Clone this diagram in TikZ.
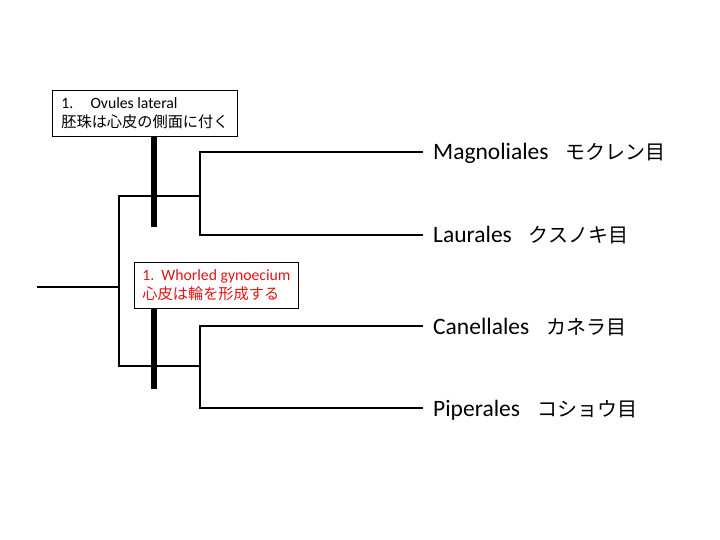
\documentclass[tikz,border=0pt]{standalone}
\usepackage{fontspec}
\setmainfont{Carlito}
\newfontfamily\jp{Noto Sans CJK JP}
\definecolor{lblred}{RGB}{225,20,20}
\newcommand{\tjp}[1]{\hspace{17pt}{\jp\fontsize{20}{22}\selectfont #1}}
\newcommand{\bjp}[1]{{\jp\fontsize{15.2}{19}\selectfont #1}}
\begin{document}
\begin{tikzpicture}[x=1pt,y=-1pt,
  br/.style={line width=1.3pt, line cap=rect},
  bar/.style={line width=6pt},
  taxon/.style={anchor=base west, inner sep=0pt, font=\fontsize{23.5}{26}\selectfont},
  charbox/.style={draw, line width=0.9pt, fill=white, anchor=north west, align=left, inner xsep=8pt, inner ysep=0pt, font=\fontsize{15.7}{19}\selectfont}]
\useasboundingbox (0,0) rectangle (720,540);
% coordinates
\coordinate (root) at (38,287);
\coordinate (r) at (119,287);
\coordinate (a) at (119,196);
\coordinate (b) at (119,366);
\coordinate (a1) at (200,196);
\coordinate (b1) at (200,366);
\coordinate (m0) at (200,152);
\coordinate (l0) at (200,235);
\coordinate (c0) at (200,326);
\coordinate (p0) at (200,408);
\node[taxon] (mag) at (433,160) {Magnoliales\tjp{モクレン目}};
\node[taxon] (lau) at (433,243) {Laurales\tjp{クスノキ目}};
\node[taxon] (can) at (433,334) {Canellales\tjp{カネラ目}};
\node[taxon] (pip) at (433,416) {Piperales\tjp{コショウ目}};
% tree
\draw[br] (root) -- (r);
\draw[br] (a) -- (b);
\draw[br] (a) -- (a1);
\draw[br] (b) -- (b1);
\draw[br] (m0) -- (l0);
\draw[br] (c0) -- (p0);
\draw[br] (m0) -- (422,152);
\draw[br] (l0) -- (422,235);
\draw[br] (c0) -- (422,326);
\draw[br] (p0) -- (422,408);
% character bars
\coordinate (t1) at (154,136);
\coordinate (e1) at (154,227);
\coordinate (t2) at (154,308);
\coordinate (e2) at (154,389);
\draw[bar] (t1) -- (e1);
\draw[bar] (t2) -- (e2);
\node[charbox, minimum width=185pt, minimum height=46pt] (c1) at (52,90) {1.\hspace{1.1em}Ovules lateral\\\bjp{胚珠は心皮の側面に付く}};
\node[charbox, minimum width=164pt, minimum height=46pt, text=lblred] (c2) at (134,262) {1.\hspace{0.45em}Whorled gynoecium\\\bjp{心皮は輪を形成する}};
\end{tikzpicture}
\end{document}
